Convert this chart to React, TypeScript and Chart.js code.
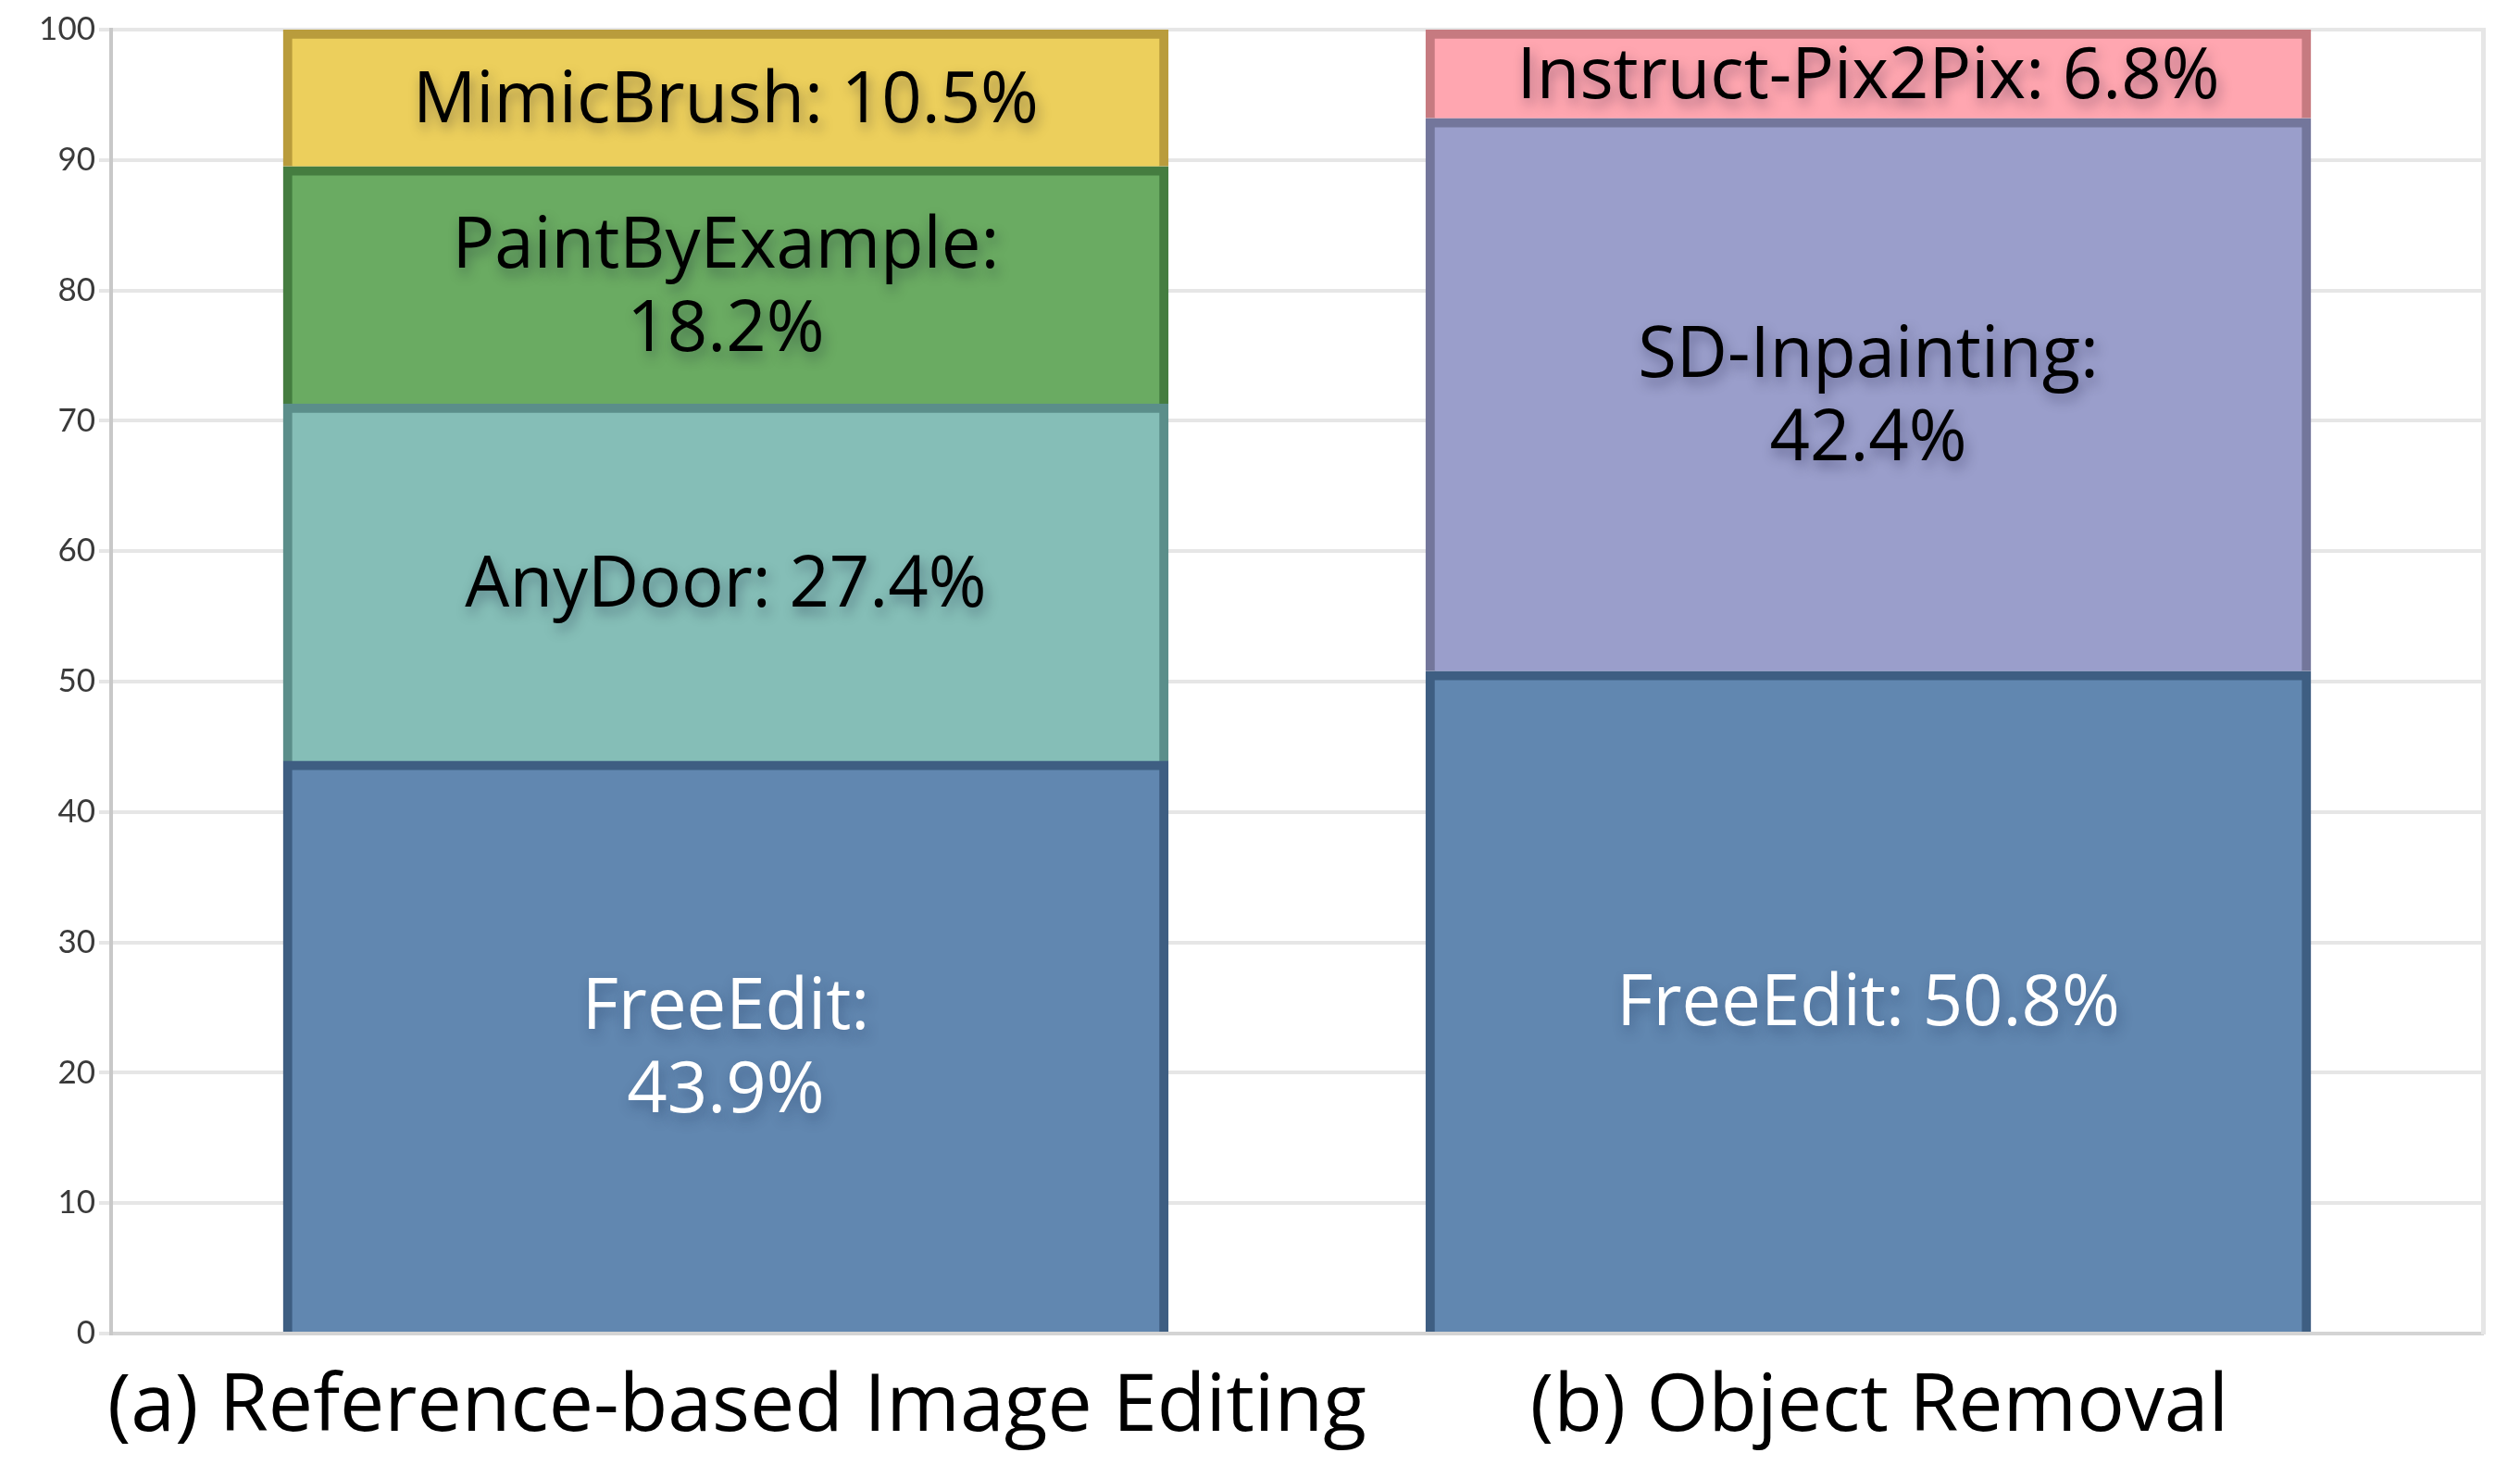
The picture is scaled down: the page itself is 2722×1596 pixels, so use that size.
import { useEffect, useRef } from 'react';
import { Chart, registerables } from 'chart.js';

Chart.register(...registerables);

// ---- data ----
const categories = ['(a) Reference-based Image Editing', '(b) Object Removal'];
const seriesNames = ['FreeEdit', 'AnyDoor', 'PaintByExample', 'MimicBrush', 'SD-Inpainting', 'Instruct-Pix2Pix'];
const freeEdit = [43.9, 50.8];
const anyDoor = [27.4, null];
const paintByExample = [18.2, null];
const mimicBrush = [10.5, null];
const sdInpainting = [null, 42.4];
const instructPix2Pix = [null, 6.8];
const seriesValues = [freeEdit, anyDoor, paintByExample, mimicBrush, sdInpainting, instructPix2Pix];
// whether the in-bar label is split after the name, per series per category
const labelSplit = [
  [true, false],
  [false, false],
  [true, false],
  [false, false],
  [false, true],
  [false, false],
];

// ---- styles ----
const fillColors = ['#6187B0', '#85BEB7', '#6AAB62', '#ECCF5C', '#9A9ECB', '#FFA6B0'];
const borderColors = ['#3E5E82', '#5B8E8A', '#457D40', '#B99C3C', '#73769B', '#C67A80'];
const labelColors = ['#FFFFFF', '#000000', '#000000', '#000000', '#000000', '#000000'];

const W = 2722;
const H = 1596;

const valueLabelPlugin = {
  id: 'valueLabels',
  afterDatasetsDraw(chart: any) {
    const ctx = chart.ctx;
    ctx.save();
    ctx.font = '76px "Open Sans", "Noto Sans", sans-serif';
    ctx.textAlign = 'center';
    ctx.textBaseline = 'middle';
    chart.data.datasets.forEach((ds: any, di: number) => {
      const meta = chart.getDatasetMeta(di);
      meta.data.forEach((el: any, i: number) => {
        const raw = ds.data[i];
        if (!raw) return;
        const cat = raw.x;
        const { x, y, base } = el.getProps(['x', 'y', 'base'], true);
        const cy = (y + base) / 2 + 4;
        const name = seriesNames[di];
        const val = raw.y.toFixed(1) + '%';
        const lines = labelSplit[di][cat] ? [name + ':', val] : [name + ': ' + val];
        const lh = 90;
        ctx.fillStyle = labelColors[di];
        ctx.shadowColor = di === 0 ? 'rgba(20,40,80,0.35)' : 'rgba(0,0,40,0.35)';
        ctx.shadowBlur = 14;
        ctx.shadowOffsetX = 3;
        ctx.shadowOffsetY = 7;
        lines.forEach((t, li) => {
          const ty = cy + (li - (lines.length - 1) / 2) * lh;
          ctx.fillText(t, x, ty);
        });
      });
    });
    ctx.restore();
  },
};

export default function App() {
  const ref = useRef<HTMLCanvasElement | null>(null);

  useEffect(() => {
    if (!ref.current) return;
    const datasets = seriesNames.map((name, si) => ({
      label: name,
      data: seriesValues[si]
        .map((v, ci) => (v == null ? null : { x: ci, y: v }))
        .filter((p) => p !== null),
      backgroundColor: fillColors[si],
      borderColor: borderColors[si],
      borderWidth: 10,
      barThickness: 956,
    }));

    const chart = new Chart(ref.current, {
      type: 'bar',
      data: { datasets: datasets as any },
      plugins: [valueLabelPlugin],
      options: {
        animation: false,
        responsive: false,
        devicePixelRatio: 1,
        layout: { padding: { top: 32, left: 0, right: 0, bottom: 0 } },
        plugins: {
          legend: { display: false },
          tooltip: { enabled: false },
        },
        scales: {
          x: {
            type: 'linear',
            stacked: true,
            offset: false,
            min: -0.538,
            max: 1.538,
            afterBuildTicks: (scale: any) => {
              scale.ticks = categories.map((_, i) => ({ value: i }));
            },
            afterFit: (scale: any) => {
              scale.height = 156;
            },
            grid: { display: false, drawTicks: false, offset: false },
            border: { display: true, color: '#D4D4D4', width: 4 },
            ticks: {
              autoSkip: false,
              maxRotation: 0,
              minRotation: 0,
              padding: 29,
              labelOffset: 12,
              color: '#000000',
              font: { family: '"Open Sans", "Noto Sans", sans-serif', size: 86 },
              callback: (v: any) => categories[v] ?? '',
            },
          },
          y: {
            stacked: true,
            min: 0,
            max: 100,
            position: 'left',
            afterFit: (scale: any) => {
              scale.width = 120;
            },
            grid: { color: '#E6E6E6', lineWidth: 4, tickLength: 13, drawTicks: true },
            border: { display: true, color: '#C8C8C8', width: 4 },
            ticks: {
              stepSize: 10,
              padding: 4,
              color: '#3A3A3A',
              font: { family: 'Lato, "Open Sans", sans-serif', size: 35 },
            },
          },
          y2: {
            position: 'right',
            min: 0,
            max: 100,
            afterFit: (scale: any) => {
              scale.width = 40;
            },
            grid: { display: false, drawTicks: false },
            border: { display: true, color: '#E6E6E6', width: 5 },
            ticks: { display: false },
          },
        },
      } as any,
    });
    return () => chart.destroy();
  }, []);

  return (
    <div style={{ position: 'fixed', left: 0, top: 0, width: W, height: H, background: '#ffffff' }}>
      <canvas ref={ref} width={W} height={H} style={{ display: 'block', width: W, height: H }} />
    </div>
  );
}
